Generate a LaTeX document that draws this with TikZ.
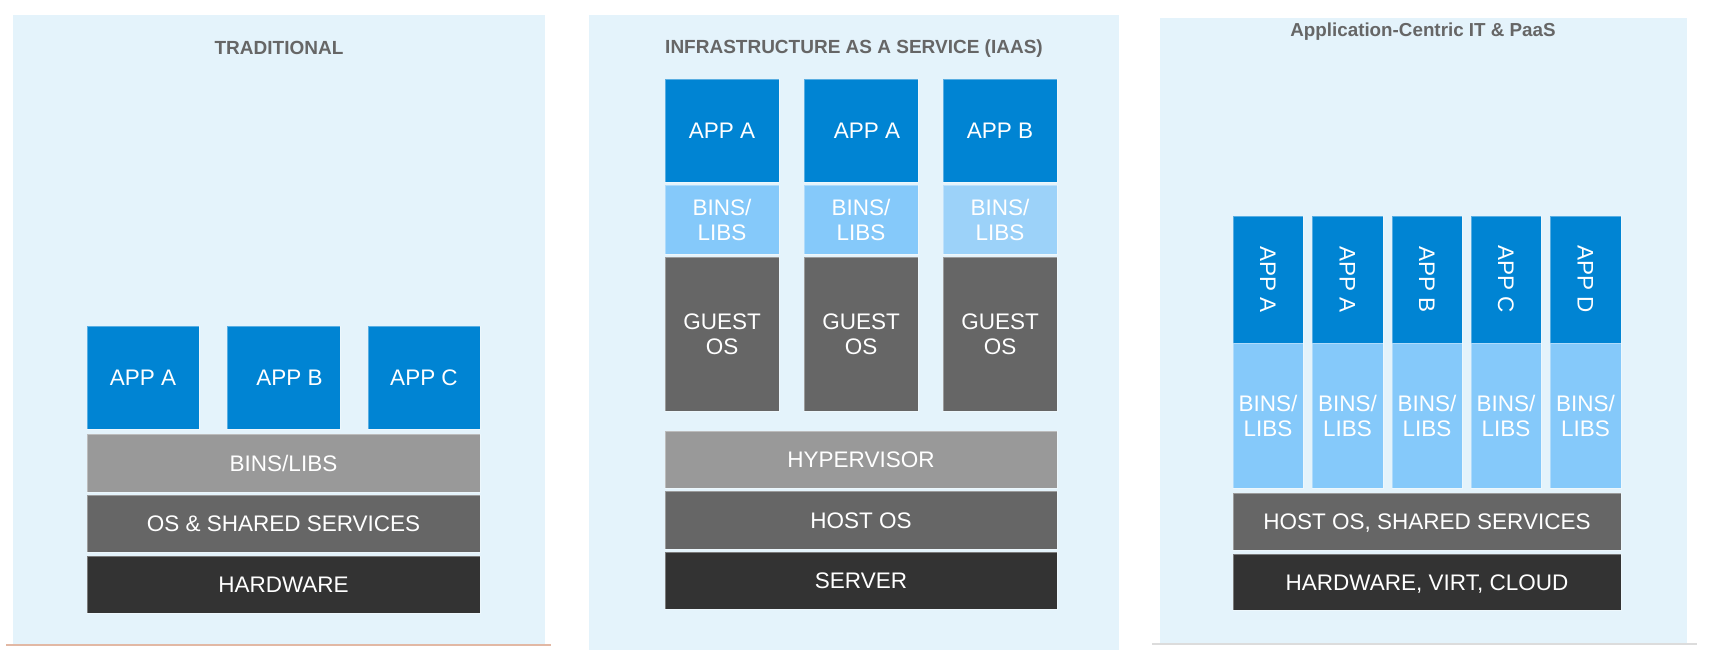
\documentclass[tikz,border=0pt]{standalone}
\usepackage{fontspec}
\setmainfont{Liberation Sans}
\definecolor{panelbg}{HTML}{E4F3FB}
\definecolor{appblue}{HTML}{0084D3}
\definecolor{libblue}{HTML}{85C9FA}
\definecolor{libbluepale}{HTML}{9CD2F9}
\definecolor{grayL}{HTML}{999999}
\definecolor{grayM}{HTML}{666666}
\definecolor{grayD}{HTML}{333333}
\definecolor{titlegray}{HTML}{666666}
\definecolor{salmonline}{HTML}{E2B8A4}
\definecolor{lightline}{HTML}{DCDCDC}
\tikzset{
  blk/.style={inner sep=0pt, draw=white, draw opacity=0.35, line width=0.8pt,
    text=white, font=\fontsize{22.5}{25}\selectfont, align=center},
  appbox/.style={blk, fill=appblue},
  libbox/.style={blk, fill=libblue},
  libpale/.style={blk, fill=libbluepale},
  lightbox/.style={blk, fill=grayL},
  midbox/.style={blk, fill=grayM},
  darkbox/.style={blk, fill=grayD},
  oneline/.style={text height=16pt, text depth=0pt},
  vtext/.style={rotate=-90, inner sep=0pt, text=white, font=\fontsize{22.5}{25}\selectfont,
    text height=16pt, text depth=0pt},
  ttl/.style={font=\bfseries\fontsize{19}{22}\selectfont, text=titlegray, anchor=base, inner sep=0pt},
  ttlsmall/.style={font=\bfseries\fontsize{18.8}{22}\selectfont, text=titlegray, anchor=base, inner sep=0pt},
}
\newcommand\bx[7]{%
  \node[#1, minimum width={(#5-#3)*1pt}, minimum height={(#6-#4)*1pt}]
    (#2) at ({(#3+#5)/2},{(#4+#6)/2}) {#7};}
\begin{document}
\begin{tikzpicture}[x=1pt,y=-1pt]
\useasboundingbox (0,0) rectangle (1711,656);
% panels
\fill[panelbg] (13,15) rectangle (545,644);
\fill[panelbg] (589,15) rectangle (1119,650);
\fill[panelbg] (1160,18) rectangle (1687,643);
\draw[salmonline, line width=1.5pt] (6,645) -- (551,645);
\draw[lightline, line width=1.5pt] (1152,644) -- (1697,644);
% titles
\node[ttl] (t1) at (279,54) {TRADITIONAL};
\node[ttl] (t2) at (854,53) {INFRASTRUCTURE AS A SERVICE (IAAS)};
\node[ttlsmall] (t3) at (1423,36) {Application-Centric IT \& PaaS};
% ---- panel 1
\bx{appbox,oneline}{p1a}{87}{326}{199}{429}{APP A}
\bx{appbox,oneline}{p1b}{227}{326}{340}{429}{\hspace*{12pt}APP B}
\bx{appbox,oneline}{p1c}{368}{326}{480}{429}{APP C}
\bx{lightbox,oneline}{p1bins}{87}{434}{480}{492}{BINS/LIBS}
\bx{midbox,oneline}{p1os}{87}{495}{480}{552}{OS \& SHARED SERVICES}
\bx{darkbox,oneline}{p1hw}{87}{556}{480}{613}{HARDWARE}
% ---- panel 2
\bx{appbox,oneline}{p2a1}{665}{79}{779}{182}{APP A}
\bx{appbox,oneline}{p2a2}{804}{79}{918}{182}{\hspace*{12pt}APP A}
\bx{appbox,oneline}{p2a3}{943}{79}{1057}{182}{APP B}
\bx{libbox}{p2l1}{665}{185}{779}{254}{BINS/\\LIBS}
\bx{libbox}{p2l2}{804}{185}{918}{254}{BINS/\\LIBS}
\bx{libpale}{p2l3}{943}{185}{1057}{254}{BINS/\\LIBS}
\bx{midbox}{p2g1}{665}{257}{779}{411}{GUEST\\OS}
\bx{midbox}{p2g2}{804}{257}{918}{411}{GUEST\\OS}
\bx{midbox}{p2g3}{943}{257}{1057}{411}{GUEST\\OS}
\bx{lightbox,oneline}{p2hyp}{665}{431}{1057}{488}{HYPERVISOR}
\bx{midbox,oneline}{p2host}{665}{491}{1057}{549}{HOST OS}
\bx{darkbox,oneline}{p2srv}{665}{552}{1057}{609}{SERVER}
% ---- panel 3
\bx{appbox}{p3a1}{1233}{216}{1303}{343}{}
\bx{appbox}{p3a2}{1312}{216}{1383}{343}{}
\bx{appbox}{p3a3}{1392}{216}{1462}{343}{}
\bx{appbox}{p3a4}{1471}{216}{1541}{343}{}
\bx{appbox}{p3a5}{1550}{216}{1621}{343}{}
\node[vtext] (p3t1) at (p3a1.center) {APP A};
\node[vtext] (p3t2) at (p3a2.center) {APP A};
\node[vtext] (p3t3) at (p3a3.center) {APP B};
\node[vtext] (p3t4) at (p3a4.center) {APP C};
\node[vtext] (p3t5) at (p3a5.center) {APP D};
\bx{libbox}{p3l1}{1233}{343}{1303}{488}{BINS/\\LIBS}
\bx{libbox}{p3l2}{1312}{343}{1383}{488}{BINS/\\LIBS}
\bx{libbox}{p3l3}{1392}{343}{1462}{488}{BINS/\\LIBS}
\bx{libbox}{p3l4}{1471}{343}{1541}{488}{BINS/\\LIBS}
\bx{libbox}{p3l5}{1550}{343}{1621}{488}{BINS/\\LIBS}
\bx{midbox,oneline}{p3host}{1233}{493}{1621}{550}{HOST OS, SHARED SERVICES}
\bx{darkbox,oneline}{p3hw}{1233}{554}{1621}{610}{HARDWARE, VIRT, CLOUD}
\end{tikzpicture}
\end{document}
